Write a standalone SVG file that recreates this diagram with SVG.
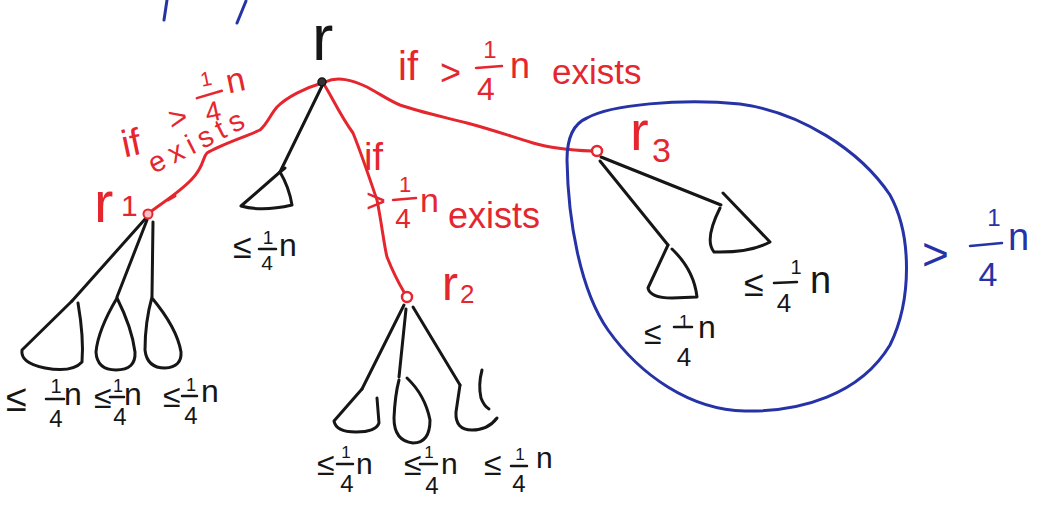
<svg xmlns="http://www.w3.org/2000/svg" width="1043" height="508" viewBox="0 0 1043 508">
<style>
.bg{fill:#ffffff}
.stk{fill:none;stroke-width:3;stroke-linecap:round;stroke-linejoin:round}
.k{stroke:#161616}
.r{stroke:#e5262e}
.b{stroke:#2633a6}
text{font-family:"Liberation Sans","DejaVu Sans",sans-serif}
.tk{fill:#161616}
.tr{fill:#e5262e}
.tb{fill:#2633a6}
.frac{stroke-width:2.5;stroke-linecap:round}
</style>
<rect class="bg" x="0" y="0" width="1043" height="508"/>

<!-- blue stray strokes at top -->
<g id="top-marks">
<path class="stk b" d="M164,20 L167,0"/>
<path class="stk b" d="M237,23 L246,1"/>
</g>

<!-- connectors -->
<g id="connectors">
<path id="e-r-r1" class="stk r" d="M322,83 C305,88 287,97 277,107 C270,115 268,123 260,130 C245,137 220,145 207,153 C202,158 205,165 192,179 C180,192 162,203 149,213"/>
<path class="stk r" d="M168,200 L175,196"/>
<path id="e-r-r3" class="stk r" d="M325,82 C338,76 352,80 367,87 C380,94 390,101 400,105 C420,112 440,116 467,123 C490,129 510,136 533,143 C550,148 565,150 592,151"/>
<path id="e-r-r2" class="stk r" d="M325,86 C332,97 340,115 353,133 C362,155 370,180 377,200 C382,225 384,245 387,257 C393,272 398,282 404,292"/>
<path id="e-r-t" class="stk k" d="M322,86 L280,172"/>
<path id="e-r1-a" class="stk k" d="M146,218 L72,301"/>
<path id="e-r1-b" class="stk k" d="M147,220 L117,297"/>
<path id="e-r1-c" class="stk k" d="M153,222 L152,296"/>
<path id="e-r2-a" class="stk k" d="M404,305 L362,389"/>
<path id="e-r2-b" class="stk k" d="M406,309 L399,377"/>
<path id="e-r2-c" class="stk k" d="M413,307 L460,385"/>
<path id="e-r3-a" class="stk k" d="M601,157 L721,205"/>
<path id="e-r3-b" class="stk k" d="M600,161 L668,245"/>
</g>

<!-- root -->
<g id="node-r">
<circle cx="322" cy="82" r="4" fill="#333" stroke="#161616" stroke-width="1.5"/>
<text class="tk" x="312" y="60" font-size="64">r</text>
</g>

<!-- r1 -->
<g id="node-r1">
<circle cx="148" cy="214" r="4.5" fill="#f6c0c4" stroke="#e5262e" stroke-width="2"/>
<text class="tr" x="94" y="222" font-size="58">r</text>
<text class="tr" x="121" y="216" font-size="30">1</text>
</g>

<!-- r2 -->
<g id="node-r2">
<circle cx="407" cy="297" r="5" fill="#ffffff" stroke="#e5262e" stroke-width="2.5"/>
<text class="tr" x="442" y="300" font-size="48">r</text>
<text class="tr" x="460" y="303" font-size="26">2</text>
</g>

<!-- r3 -->
<g id="node-r3">
<circle cx="597" cy="151" r="5" fill="#ffffff" stroke="#e5262e" stroke-width="2.5"/>
<text class="tr" x="630" y="150" font-size="56">r</text>
<text class="tr" x="652" y="162" font-size="34">3</text>
</g>

<!-- subtree under r -->
<g id="tree-r">
<path class="stk k" d="M280,172 L241,206 Q262,212 292,205 Q289,187 280,172"/>
<path class="stk k" d="M280,172 L285,168"/>
<g transform="translate(233,228)">
<text class="tk" x="0" y="30" font-size="34">≤</text>
<text class="tk" x="35" y="16" font-size="19" text-anchor="middle">1</text>
<line class="frac k" x1="26" y1="21" x2="43" y2="21"/>
<text class="tk" x="34" y="42" font-size="21" text-anchor="middle">4</text>
<text class="tk" x="46" y="28" font-size="32">n</text>
</g>
</g>

<!-- subtrees under r1 -->
<g id="tree-r1-a">
<path class="stk k" d="M72,301 L22,350 Q20,363 45,368 Q72,373 82,362 Q84,338 78,303"/>
<g transform="translate(6,375)">
<text class="tk" x="0" y="36" font-size="38">≤</text>
<text class="tk" x="50" y="18" font-size="20" text-anchor="middle">1</text>
<line class="frac k" x1="40" y1="24" x2="58" y2="24"/>
<text class="tk" x="50" y="52" font-size="24" text-anchor="middle">4</text>
<text class="tk" x="58" y="30" font-size="32">n</text>
</g>
</g>
<g id="tree-r1-b">
<path class="stk k" d="M117,298 Q98,330 96,352 Q97,370 116,370 Q136,370 135,352 Q132,328 117,298"/>
<g transform="translate(94,375)">
<text class="tk" x="0" y="33" font-size="32">≤</text>
<text class="tk" x="24" y="17" font-size="18" text-anchor="middle">1</text>
<line class="frac k" x1="16" y1="22" x2="30" y2="22"/>
<text class="tk" x="26" y="50" font-size="24" text-anchor="middle">4</text>
<text class="tk" x="30" y="30" font-size="32">n</text>
</g>
</g>
<g id="tree-r1-c">
<path class="stk k" d="M152,297 Q145,322 145,350 Q147,368 165,368 Q182,367 181,352 Q177,328 152,298"/>
<g transform="translate(163,374)">
<text class="tk" x="0" y="33" font-size="32">≤</text>
<text class="tk" x="28" y="17" font-size="18" text-anchor="middle">1</text>
<line class="frac k" x1="19" y1="22" x2="34" y2="22"/>
<text class="tk" x="28" y="50" font-size="24" text-anchor="middle">4</text>
<text class="tk" x="38" y="28" font-size="32">n</text>
</g>
</g>

<!-- subtrees under r2 -->
<g id="tree-r2-a">
<path class="stk k" d="M362,389 L334,421 Q336,432 356,432 Q376,432 379,423 L377,398"/>
<g transform="translate(317,444)">
<text class="tk" x="0" y="31" font-size="32">≤</text>
<text class="tk" x="29" y="14" font-size="17" text-anchor="middle">1</text>
<line class="frac k" x1="20" y1="20" x2="36" y2="20"/>
<text class="tk" x="30" y="48" font-size="24" text-anchor="middle">4</text>
<text class="tk" x="39" y="30" font-size="30">n</text>
</g>
</g>
<g id="tree-r2-b">
<path class="stk k" d="M407,378 Q425,395 430,420 Q430,443 413,443 Q394,441 394,418 Q395,395 399,380"/>
<g transform="translate(404,444)">
<text class="tk" x="0" y="31" font-size="32">≤</text>
<text class="tk" x="25" y="14" font-size="17" text-anchor="middle">1</text>
<line class="frac k" x1="16" y1="20" x2="33" y2="20"/>
<text class="tk" x="28" y="50" font-size="24" text-anchor="middle">4</text>
<text class="tk" x="37" y="30" font-size="30">n</text>
</g>
</g>
<g id="tree-r2-c">
<path class="stk k" d="M460,385 L456,412 Q455,430 472,430 Q488,430 497,418"/>
<path class="stk k" d="M482,370 Q478,385 481,398 Q484,406 489,409"/>
<g transform="translate(484,446)">
<text class="tk" x="0" y="29" font-size="32">≤</text>
<text class="tk" x="36" y="14" font-size="17" text-anchor="middle">1</text>
<line class="frac k" x1="27" y1="20" x2="43" y2="20"/>
<text class="tk" x="35" y="46" font-size="24" text-anchor="middle">4</text>
<text class="tk" x="52" y="22" font-size="30">n</text>
</g>
</g>

<!-- subtrees under r3 -->
<g id="tree-r3-a">
<path class="stk k" d="M723,193 L770,242 Q750,253 714,252 Q704,240 720,208"/>
<g transform="translate(744,256)">
<text class="tk" x="0" y="40" font-size="36">≤</text>
<text class="tk" x="52" y="18" font-size="20" text-anchor="middle">1</text>
<line class="frac k" x1="30" y1="27" x2="53" y2="26"/>
<text class="tk" x="40" y="56" font-size="26" text-anchor="middle">4</text>
<text class="tk" x="66" y="37" font-size="38">n</text>
</g>
</g>
<g id="tree-r3-b">
<path class="stk k" d="M668,245 L648,288 Q650,298 672,298 L697,297 Q694,270 672,249"/>
<g transform="translate(644,312)">
<text class="tk" x="0" y="32" font-size="32">≤</text>
<text class="tk" x="40" y="16" font-size="18" text-anchor="middle">1</text>
<line class="frac k" x1="30" y1="15" x2="48" y2="15"/>
<text class="tk" x="40" y="54" font-size="26" text-anchor="middle">4</text>
<text class="tk" x="54" y="26" font-size="32">n</text>
</g>
</g>

<!-- blue region around r3 -->
<g id="region-r3">
<path class="stk b" d="M587,118 C610,105 680,98 740,104 C800,112 860,150 890,195 C912,235 912,300 890,345 C860,395 800,412 745,411 C690,410 640,375 608,330 C580,290 568,220 567,160 C567,135 575,123 587,118 Z"/>
<g transform="translate(922,200)">
<text class="tb" x="0" y="70" font-size="46">&gt;</text>
<text class="tb" x="72" y="26" font-size="24" text-anchor="middle">1</text>
<line class="frac b" x1="48" y1="46" x2="80" y2="43"/>
<text class="tb" x="66" y="86" font-size="34" text-anchor="middle">4</text>
<text class="tb" x="86" y="50" font-size="38">n</text>
</g>
</g>

<!-- edge labels -->
<g id="label-r1">
<g transform="rotate(-12 180 115)">
<text class="tr" x="117" y="145" font-size="38">if</text>
<text class="tr" x="168" y="128" font-size="32">&gt;</text>
<text class="tr" x="213" y="92" font-size="20" text-anchor="middle">1</text>
<line class="frac r" x1="200" y1="102" x2="226" y2="100"/>
<text class="tr" x="213" y="128" font-size="28" text-anchor="middle">4</text>
<text class="tr" x="232" y="104" font-size="34">n</text>
</g>
<text class="tr" x="154" y="174" font-size="29" textLength="104" lengthAdjust="spacing" transform="rotate(-27 154 174)">exists</text>
</g>
<g id="label-r3">
<text class="tr" x="398" y="80" font-size="40">if</text>
<text class="tr" x="440" y="85" font-size="36">&gt;</text>
<text class="tr" x="490" y="58" font-size="24" text-anchor="middle">1</text>
<line class="frac r" x1="476" y1="68" x2="502" y2="66"/>
<text class="tr" x="486" y="100" font-size="32" text-anchor="middle">4</text>
<text class="tr" x="510" y="78" font-size="36">n</text>
<text class="tr" x="552" y="84" font-size="35">exists</text>
</g>
<g id="label-r2">
<text class="tr" x="364" y="170" font-size="38">if</text>
<text class="tr" x="366" y="212" font-size="34">&gt;</text>
<text class="tr" x="405" y="192" font-size="22" text-anchor="middle">1</text>
<line class="frac r" x1="393" y1="200" x2="416" y2="198"/>
<text class="tr" x="403" y="228" font-size="28" text-anchor="middle">4</text>
<text class="tr" x="420" y="212" font-size="34">n</text>
<text class="tr" x="448" y="228" font-size="36">exists</text>
</g>
</svg>
